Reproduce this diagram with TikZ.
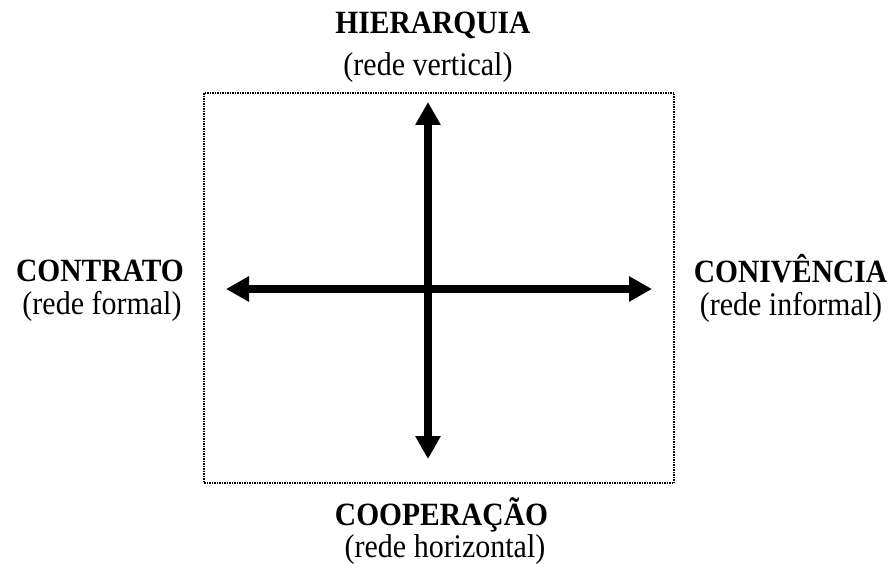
\documentclass[tikz,border=0pt]{standalone}
\usepackage{fontspec}
\setmainfont{Liberation Serif}
\usetikzlibrary{arrows.meta}
\newcommand{\tallt}[1]{\scalebox{1}[1.1]{#1}}
\begin{document}
\begin{tikzpicture}[x=1pt,y=-1pt,
  lbl/.style={font=\fontsize{29.5}{34}\selectfont\bfseries, inner sep=0pt, anchor=base},
  sub/.style={font=\fontsize{30}{34}\selectfont, inner sep=0pt, anchor=base},
  axis/.style={line width=7.5pt, arrows={Triangle[length=23pt,width=24pt]-Triangle[length=23pt,width=24pt]}},
  frame/.style={draw, dash pattern=on 1.5pt off 1pt, line width=1.3pt}]
\useasboundingbox (0,0) rectangle (892,564);
\node[frame, minimum width=470pt, minimum height=390pt, inner sep=0pt] (box) at (439,288) {};
\coordinate (top) at (428,102);
\coordinate (bot) at (428,459);
\coordinate (lft) at (226,289);
\coordinate (rgt) at (652,289);
\draw[axis] (bot) -- (top);
\draw[axis] (lft) -- (rgt);
\node[lbl] (h) at (433,34) {\tallt{HIERARQUIA}};
\node[sub] (hs) at (428,76) {\tallt{(rede vertical)}};
\node[lbl] (c) at (100,282) {\tallt{CONTRATO}};
\node[sub] (cs) at (102,314) {\tallt{(rede formal)}};
\node[lbl] (v) at (790.5,283) {\tallt{CONIVÊNCIA}};
\node[sub] (vs) at (791,316) {\tallt{(rede informal)}};
\node[lbl] (o) at (441.5,525) {\tallt{COOPERAÇÃO}};
\node[sub] (os) at (445,557) {\tallt{(rede horizontal)}};
\end{tikzpicture}
\end{document}
